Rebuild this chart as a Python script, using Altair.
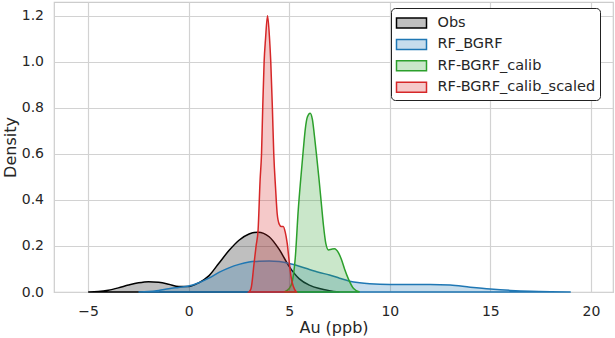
import altair as alt
import pandas as pd

series_names = ["Obs", "RF_BGRF", "RF-BGRF_calib", "RF-BGRF_calib_scaled"]
series_colors = ["#000000", "#1f77b4", "#2ca02c", "#d62728"]

obs_x = [-5.0, -4.5, -4.0, -3.5, -3.0, -2.5, -2.0, -1.5, -1.0, -0.5, 0.0, 0.5, 1.0, 1.5,
         2.0, 2.5, 3.0, 3.45, 4.0, 4.5, 5.0, 5.5, 6.0, 6.5, 7.0, 7.5]
obs_y = [0.0, 0.002, 0.008, 0.018, 0.03, 0.04, 0.045, 0.042, 0.034, 0.024, 0.024, 0.04, 0.07,
         0.125, 0.18, 0.225, 0.252, 0.26, 0.24, 0.185, 0.11, 0.057, 0.03, 0.015, 0.006, 0.0]

bgrf_x = [-2.5, -2.0, -1.5, -1.0, -0.5, 0.0, 0.5, 1.0, 1.5, 2.0, 2.5, 3.0, 3.5, 4.0, 4.5,
          5.0, 5.5, 6.0, 6.5, 7.0, 7.5, 8.0, 8.5, 9.0, 10.0, 11.0, 12.0, 13.0, 14.0, 15.0,
          16.0, 17.0, 18.0, 19.0]
bgrf_y = [0.0, 0.002, 0.007, 0.014, 0.02, 0.026, 0.04, 0.06, 0.085, 0.105, 0.12, 0.13, 0.134,
          0.135, 0.132, 0.124, 0.112, 0.098, 0.085, 0.074, 0.06, 0.047, 0.04, 0.036, 0.033,
          0.033, 0.033, 0.03, 0.021, 0.013, 0.007, 0.003, 0.001, 0.0]

calib_x = [4.75, 5.0, 5.16, 5.3, 5.45, 5.57, 5.7, 5.8, 5.9, 6.04, 6.15, 6.25, 6.35, 6.48,
           6.6, 6.7, 6.82, 6.95, 7.1, 7.25, 7.45, 7.6, 7.75, 7.95, 8.2, 8.5]
calib_y = [0.0, 0.015, 0.05, 0.15, 0.36, 0.49, 0.62, 0.71, 0.76, 0.777, 0.75, 0.68, 0.6,
           0.49, 0.38, 0.29, 0.21, 0.183, 0.186, 0.188, 0.17, 0.14, 0.1, 0.055, 0.015, 0.0]

scaled_x = [3.0, 3.1, 3.25, 3.35, 3.45, 3.55, 3.62, 3.68, 3.75, 3.82, 3.92, 4.02, 4.08,
            4.16, 4.23, 4.32, 4.4, 4.5, 4.6, 4.7, 4.8, 4.9, 5.0, 5.1, 5.2, 5.35]
scaled_y = [0.0, 0.015, 0.125, 0.2, 0.27, 0.487, 0.6, 0.8, 1.0, 1.1, 1.2, 1.1, 1.0, 0.8,
            0.6, 0.45, 0.34, 0.295, 0.285, 0.285, 0.26, 0.21, 0.13, 0.06, 0.025, 0.0]

x_ticks = [-5, 0, 5, 10, 15, 20]
y_ticks = [0.0, 0.2, 0.4, 0.6, 0.8, 1.0, 1.2]

frames = []
for name, xs, ys in zip(series_names,
                        [obs_x, bgrf_x, calib_x, scaled_x],
                        [obs_y, bgrf_y, calib_y, scaled_y]):
    frames.append(pd.DataFrame({"series": name, "x": xs, "y": ys}))
df = pd.concat(frames, ignore_index=True)
df["order"] = df["series"].map({n: i for i, n in enumerate(series_names)})

FONT = "DejaVu Sans"
TXT = "#262626"

color_scale = alt.Scale(domain=series_names, range=series_colors)

chart = alt.Chart(df).mark_area(
    interpolate="monotone"
).encode(
    x=alt.X("x:Q", title="Au (ppb)",
            scale=alt.Scale(domain=[-6.7, 21.1], nice=False, zero=False),
            axis=alt.Axis(values=x_ticks, format="d")),
    y=alt.Y("y:Q", title="Density", stack=None,
            scale=alt.Scale(domain=[0, 1.26], nice=False),
            axis=alt.Axis(values=y_ticks, format=".1f")),
    fill=alt.Fill("series:N", scale=color_scale, title=None,
                  legend=alt.Legend(orient="none", legendX=337, legendY=6)),
    stroke=alt.Stroke("series:N", scale=color_scale, title=None,
                      legend=alt.Legend(orient="none", legendX=337, legendY=6)),
    order=alt.Order("order:Q"),
).properties(
    width=559, height=290,
    autosize=alt.AutoSizeParams(type="none"),
    padding={"left": 54, "top": 2, "right": 2, "bottom": 46},
).configure_area(
    fillOpacity=0.25, strokeWidth=1.5
).configure_view(
    stroke="#cccccc", strokeWidth=1.2
).configure_axis(
    grid=True, gridColor="#d2d2d2", gridWidth=1.2, domain=False, ticks=False,
    labelFont=FONT, labelFontSize=14, labelColor=TXT,
    titleFont=FONT, titleFontSize=16, titleColor=TXT, titleFontWeight="normal",
).configure_axisX(
    labelPadding=12, titlePadding=1
).configure_axisY(
    labelPadding=10.5, titlePadding=3
).configure_legend(
    labelFont=FONT, labelFontSize=14.5, labelColor=TXT,
    symbolType="M-1.5,-0.5H1.5V0.5H-1.5Z", symbolSize=400, symbolStrokeWidth=1.5,
    padding=4, symbolOffset=5.5, labelOffset=15, rowPadding=2.4,
    fillColor="white", strokeColor="#222222", cornerRadius=4, strokeWidth=1,
    labelLimit=300,
)

chart.save("out.html", embed_options={"renderer": "svg", "actions": False})
